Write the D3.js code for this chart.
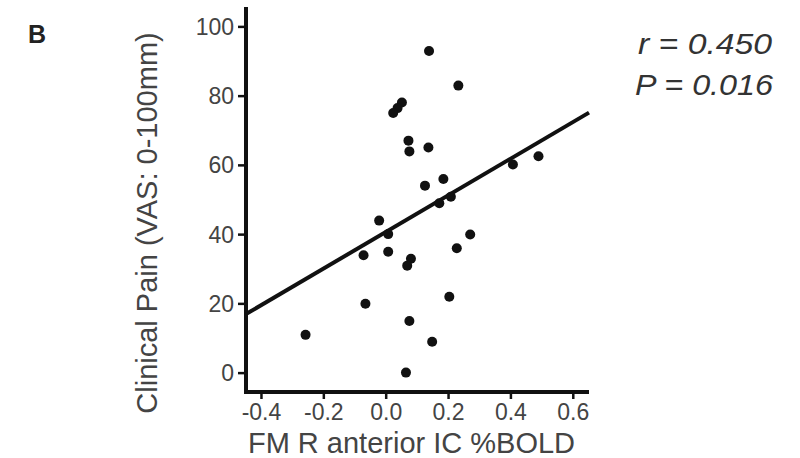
<!DOCTYPE html>
<html>
<head>
<meta charset="utf-8">
<script src="https://cdn.jsdelivr.net/npm/d3@7"></script>
<style>
  html, body { margin: 0; padding: 0; background: #fff; }
  svg { display: block; }
  text { font-family: "Liberation Sans", Arial, Helvetica, sans-serif; }
</style>
</head>
<body>
<svg id="chart" width="800" height="458"></svg>
<script>
// ---- data ----
const boldValues = [0.139, 0.233, 0.052, 0.038, 0.024, 0.073, 0.076, 0.137, 0.126, 0.185, 0.408, 0.490,
                    0.209, 0.172, -0.021, 0.008, -0.071, 0.008, 0.081, 0.069, 0.271, 0.228, -0.065,
                    0.204, -0.257, 0.076, 0.149, 0.065];
const painValues = [92.9, 82.9, 78.0, 76.4, 75.0, 67.0, 63.9, 65.0, 54.0, 55.9, 60.1, 62.5,
                    50.8, 48.9, 43.9, 40.0, 33.9, 34.9, 32.9, 30.9, 39.9, 35.9, 19.9,
                    21.9, 10.9, 14.9, 8.9, 0.0];
const xTicks = [-0.4, -0.2, 0.0, 0.2, 0.4, 0.6];
const xTickLabels = ["-0.4", "-0.2", "0.0", "0.2", "0.4", "0.6"];
const yTicks = [0, 20, 40, 60, 80, 100];
const xDomain = [-0.448, 0.652];
const yDomain = [-5.6, 105.6];
const fitIntercept = 40.6;
const fitSlope = 52.9;
const panelLabel = "B";
const xLabel = "FM R anterior IC %BOLD";
const yLabel = "Clinical Pain (VAS: 0-100mm)";
const statLines = ["r = 0.450", "P = 0.016"];

// ---- layout ----
const svg = d3.select("#chart");
const mLeft = 246, mRight = 589, mTop = 7, mBottom = 392;
const x = d3.scaleLinear().domain(xDomain).range([mLeft, mRight]);
const y = d3.scaleLinear().domain(yDomain).range([mBottom, mTop]);
const ink = "#111";
const textCol = "#444";

// regression line
const lineGen = d3.line().x(d => x(d)).y(d => y(fitIntercept + fitSlope * d));
svg.append("path")
  .datum(xDomain)
  .attr("d", lineGen)
  .attr("fill", "none")
  .attr("stroke", ink)
  .attr("stroke-width", 4);

// points
svg.append("g").selectAll("circle")
  .data(boldValues.map((v, i) => [v, painValues[i]]))
  .join("circle")
  .attr("cx", d => x(d[0]))
  .attr("cy", d => y(d[1]))
  .attr("r", 5)
  .attr("fill", ink);

// axes
const yAxis = d3.axisLeft(y).tickValues(yTicks).tickSize(8).tickPadding(4).tickFormat(d3.format("d"));
const gy = svg.append("g").attr("transform", `translate(${mLeft},0)`).call(yAxis);
const xAxis = d3.axisBottom(x).tickValues(xTicks).tickSize(7).tickPadding(5)
  .tickFormat((d, i) => xTickLabels[i]);
const gx = svg.append("g").attr("transform", `translate(0,${mBottom})`).call(xAxis);

[gx, gy].forEach(g => {
  g.select(".domain").attr("stroke", ink).attr("stroke-width", 4);
  g.selectAll(".tick line").attr("stroke", ink).attr("stroke-width", 2.5);
  g.selectAll(".tick text")
    .attr("fill", textCol)
    .style("font-size", "23px")
    .style("font-family", "'Liberation Sans', Arial, sans-serif");
});
gx.select(".domain").attr("d", `M${mLeft - 2},0H${mRight}`);
gy.select(".domain").attr("d", `M0,${mTop}V${mBottom + 2}`);
gy.selectAll(".tick text").attr("dy", "0.35em");

// axis labels
svg.append("text")
  .attr("x", (mLeft + mRight) / 2 - 6)
  .attr("y", 453)
  .attr("text-anchor", "middle")
  .attr("fill", textCol)
  .style("font-size", "29px")
  .text(xLabel);

svg.append("text")
  .attr("transform", `translate(157,223) rotate(-90)`)
  .attr("text-anchor", "middle")
  .attr("fill", textCol)
  .style("font-size", "29px")
  .text(yLabel);

// panel label
svg.append("text")
  .attr("x", 28)
  .attr("y", 43)
  .attr("fill", "#222")
  .style("font-size", "25px")
  .style("font-weight", "bold")
  .text(panelLabel);

// stats
svg.append("g").selectAll("text")
  .data(statLines)
  .join("text")
  .attr("x", (d, i) => i === 0 ? 638 : 635)
  .attr("y", (d, i) => 54 + i * 41)
  .attr("textLength", (d, i) => i === 0 ? 134 : 138)
  .attr("lengthAdjust", "spacingAndGlyphs")
  .attr("fill", "#333")
  .style("font-size", "30px")
  .style("font-style", "italic")
  .text(d => d);
</script>
</body>
</html>
